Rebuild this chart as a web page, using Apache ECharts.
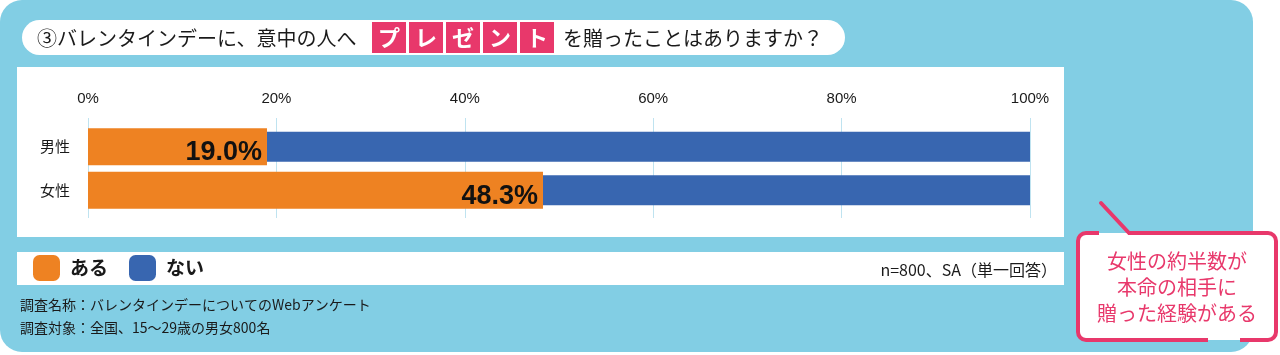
<!DOCTYPE html>
<html><head><meta charset="utf-8">
<script src="https://cdn.jsdelivr.net/npm/echarts@6/dist/echarts.min.js"></script>
<style>html,body{margin:0;padding:0;background:#fff}#c{width:1280px;height:355px}</style>
</head><body><div id="c"></div>
<script>
const categories = ['男性', '女性'];
const aru = [19.0, 48.3];   // ある
const nai = [81.0, 51.7];   // ない
const seriesNames = ['ある', 'ない'];
const xTickMin = 0, xTickMax = 100, xTickStep = 20;
const titleHead = '③バレンタインデーに、意中の人へ';
const titleBoxChars = ['プ', 'レ', 'ゼ', 'ン', 'ト'];
const titleTail = 'を贈ったことはありますか？';
const sampleNote = 'n=800、SA（単一回答）';
const footnotes = ['調査名称：バレンタインデーについてのWebアンケート', '調査対象：全国、15～29歳の男女800名'];
const calloutLines = ['女性の約半数が', '本命の相手に', '贈った経験がある'];

const ORANGE = '#EE8222', BLUE = '#3866B0', SKY = '#82CEE4', PINK = '#E8386B';
const CJK = '"Noto Sans CJK JP", sans-serif';

const chart = echarts.init(document.getElementById('c'));
const g = [];
g.push({type:'rect', z:-10, shape:{x:0,y:0,width:1253,height:352,r:22}, style:{fill:SKY}});
g.push({type:'rect', z:-9, shape:{x:22,y:20,width:823,height:35,r:17.5}, style:{fill:'#fff'}});
g.push({type:'text', z:-8, style:{text:titleHead, x:37, y:38, verticalAlign:'middle', font:'20px '+CJK, fill:'#1a1a1a'}});
titleBoxChars.forEach((ch,i)=>{
  g.push({type:'rect', z:-8, shape:{x:372+i*37,y:22,width:34,height:31}, style:{fill:PINK}});
  g.push({type:'text', z:-7, style:{text:ch, x:372+i*37+17, y:38, align:'center', verticalAlign:'middle', font:'bold 22px '+CJK, fill:'#fff'}});
});
g.push({type:'text', z:-8, style:{text:titleTail, x:563, y:38, verticalAlign:'middle', font:'20px '+CJK, fill:'#1a1a1a'}});
g.push({type:'rect', z:-9, shape:{x:17,y:67,width:1047,height:170}, style:{fill:'#fff'}});
g.push({type:'rect', z:-9, shape:{x:17,y:252,width:1047,height:33}, style:{fill:'#fff'}});
g.push({type:'text', z:-8, style:{text:sampleNote, x:1057, y:270, align:'right', verticalAlign:'middle', font:'16px '+CJK, fill:'#1a1a1a'}});
footnotes.forEach((t,i)=>{
  g.push({type:'text', z:-8, style:{text:t, x:20, y:305+i*23, verticalAlign:'middle', font:'14px '+CJK, fill:'#1a1a1a'}});
});
// callout
g.push({type:'rect', z:5, shape:{x:1078,y:233,width:198,height:107,r:8}, style:{fill:'#fff', stroke:PINK, lineWidth:4}});
g.push({type:'rect', z:6, shape:{x:1099,y:233,width:29,height:3}, style:{fill:'#fff'}});
g.push({type:'rect', z:6, shape:{x:1099,y:230,width:29,height:3}, style:{fill:SKY}});
g.push({type:'rect', z:6, shape:{x:1208,y:337,width:32,height:3}, style:{fill:'#fff'}});
g.push({type:'rect', z:6, shape:{x:1208,y:340,width:32,height:3}, style:{fill:SKY}});
g.push({type:'line', z:7, shape:{x1:1101,y1:203,x2:1129,y2:233}, style:{stroke:PINK, lineWidth:4, lineCap:'round'}});
calloutLines.forEach((t,i)=>{
  g.push({type:'text', z:7, style:{text:t, x:1177, y:261+i*26, align:'center', verticalAlign:'middle', font:'20px '+CJK, fill:PINK}});
});

chart.setOption({
  animation:false,
  textStyle:{fontFamily:CJK},
  graphic:g,
  legend:{data:seriesNames, left:28, top:250, itemWidth:27, itemHeight:26, itemGap:21, icon:'roundRect',
    textStyle:{fontSize:19, fontWeight:'bold', color:'#1a1a1a', fontFamily:CJK, padding:[0,0,0,5]}},
  grid:[
    {left:88, right:250, top:118, bottom:137},
    {left:88, right:250, top:125, bottom:143}
  ],
  xAxis:[
    {gridIndex:0, type:'value', position:'top', min:xTickMin, max:xTickMax, interval:xTickStep,
      axisLine:{show:false}, axisTick:{show:false},
      axisLabel:{formatter:'{value}%', fontSize:15, color:'#1a1a1a', margin:12, fontFamily:'"Liberation Sans", Arial, sans-serif'},
      splitLine:{show:true, lineStyle:{color:'#BFE3F0', width:1}}},
    {gridIndex:1, type:'value', min:xTickMin, max:xTickMax, show:false}
  ],
  yAxis:[
    {gridIndex:0, type:'value', show:false},
    {gridIndex:1, type:'category', data:categories, inverse:true,
      axisLine:{show:false}, axisTick:{show:false}, splitLine:{show:false},
      axisLabel:{fontSize:15, color:'#1a1a1a', margin:18}},
    {gridIndex:1, type:'category', data:categories, inverse:true, show:false}
  ],
  series:[
    {name:'base', type:'bar', xAxisIndex:1, yAxisIndex:2, stack:'b', barWidth:30, data:aru,
      itemStyle:{color:'rgba(0,0,0,0)'}, silent:true},
    {name:seriesNames[1], type:'bar', xAxisIndex:1, yAxisIndex:2, stack:'b', barWidth:30, data:nai,
      itemStyle:{color:BLUE}},
    {name:seriesNames[0], type:'bar', xAxisIndex:1, yAxisIndex:1, barWidth:37, data:aru,
      itemStyle:{color:ORANGE},
      label:{show:true, position:'insideRight', distance:5, offset:[0,6],
        formatter:p=>p.value.toFixed(1)+'%', fontSize:27, fontWeight:'bold', color:'#111',
        fontFamily:'"Liberation Sans", Arial, sans-serif'}}
  ]
});
</script></body></html>
